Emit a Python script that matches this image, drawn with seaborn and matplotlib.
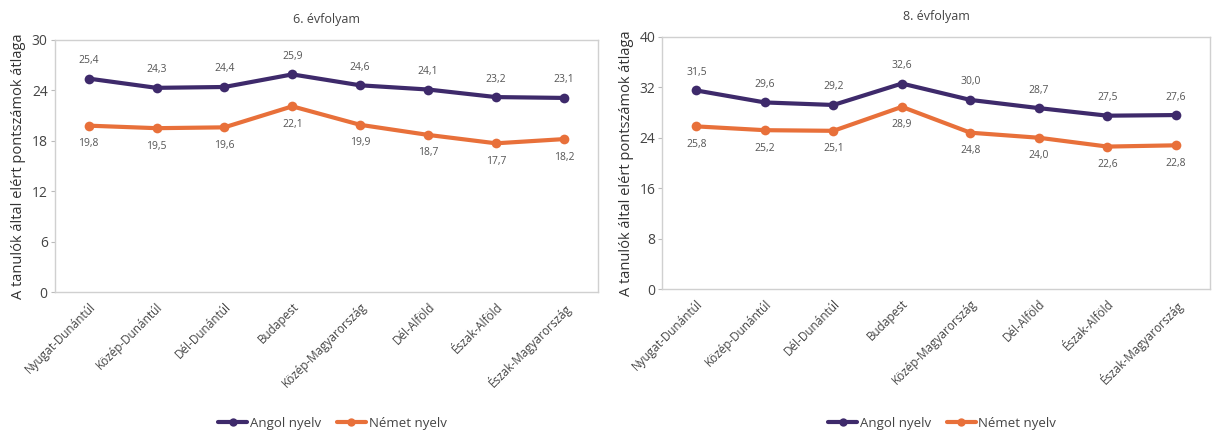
# Átlagpontszámok régiónként, 6. és 8. évfolyam
import pandas as pd
import matplotlib
matplotlib.use("Agg")
import matplotlib.pyplot as plt
import seaborn as sns
from matplotlib.lines import Line2D

# Adatok
regiok = ["Nyugat-Dunántúl", "Közép-Dunántúl", "Dél-Dunántúl", "Budapest",
          "Közép-Magyarország", "Dél-Alföld", "Észak-Alföld", "Észak-Magyarország"]
angol_6 = [25.4, 24.3, 24.4, 25.9, 24.6, 24.1, 23.2, 23.1]
nemet_6 = [19.8, 19.5, 19.6, 22.1, 19.9, 18.7, 17.7, 18.2]
angol_8 = [31.5, 29.6, 29.2, 32.6, 30.0, 28.7, 27.5, 27.6]
nemet_8 = [25.8, 25.2, 25.1, 28.9, 24.8, 24.0, 22.6, 22.8]
cimek = ["6. évfolyam", "8. évfolyam"]
y_tickek = [[0, 6, 12, 18, 24, 30], [0, 8, 16, 24, 32, 40]]
sorozatok = ["Angol nyelv", "Német nyelv"]
ylabel = "A tanulók által elért pontszámok átlaga"

szinek = {"Angol nyelv": "#3e2a6b", "Német nyelv": "#e8703a"}

sns.set_style("white")
plt.rcParams["font.family"] = ["Open Sans", "DejaVu Sans"]

fig = plt.figure(figsize=(12.15, 4.34), dpi=100)
ax1 = fig.add_axes([0.045, 0.327, 0.447, 0.581])
ax2 = fig.add_axes([0.545, 0.334, 0.451, 0.581])

adatok = [(angol_6, nemet_6), (angol_8, nemet_8)]

for ax, (ang, nem), cim, yt in zip([ax1, ax2], adatok, cimek, y_tickek):
    df = pd.DataFrame({
        "regio": regiok * 2,
        "x": list(range(len(regiok))) * 2,
        "ertek": ang + nem,
        "nyelv": ["Angol nyelv"] * len(regiok) + ["Német nyelv"] * len(regiok),
    })
    sns.lineplot(data=df, x="x", y="ertek", hue="nyelv", palette=szinek,
                 marker="o", markersize=7, markeredgewidth=0, linewidth=3,
                 legend=False, ax=ax)

    # Adatcímkék
    for i, v in enumerate(ang):
        ax.annotate(f"{v:.1f}".replace(".", ","), (i, v), xytext=(0, 9),
                    textcoords="offset points", ha="center", va="bottom",
                    fontsize=7.5, color="#555555")
    for i, v in enumerate(nem):
        ax.annotate(f"{v:.1f}".replace(".", ","), (i, v), xytext=(0, -9),
                    textcoords="offset points", ha="center", va="top",
                    fontsize=7.5, color="#555555")

    ax.set_xlim(-0.5, len(regiok) - 0.5)
    ax.set_ylim(yt[0], yt[-1])
    ax.set_yticks(yt)
    ax.set_xticks(range(len(regiok)))
    ax.set_xticklabels(regiok, rotation=45, ha="right", rotation_mode="anchor",
                       fontsize=8.5, color="#444444")
    ax.tick_params(axis="y", labelsize=10, colors="#444444", length=3,
                   left=True, width=0.8, pad=2)
    ax.tick_params(axis="y", color="#bbbbbb")
    ax.tick_params(axis="x", length=0, pad=6)
    ax.set_xlabel("")
    ax.set_ylabel(ylabel, fontsize=10.5, color="#333333", labelpad=4)
    ax.set_title(cim, fontsize=9, color="#444444", pad=12)
    for s in ax.spines.values():
        s.set_color("#d0d0d0")
        s.set_linewidth(1)

    # Jelmagyarázat
    fogantyuk = [Line2D([0], [0], color=szinek[s], marker="o", markersize=6,
                        markeredgewidth=0, linewidth=3) for s in sorozatok]
    pos = ax.get_position()
    fig.legend(fogantyuk, sorozatok, loc="center", ncol=2, frameon=False,
               fontsize=9.5, handlelength=2.2, handletextpad=0.2, columnspacing=1.2,
               bbox_to_anchor=((pos.x0 + pos.x1) / 2 + 0.005, 0.025),
               labelcolor="#444444")

fig.savefig("out.png", dpi=100)
